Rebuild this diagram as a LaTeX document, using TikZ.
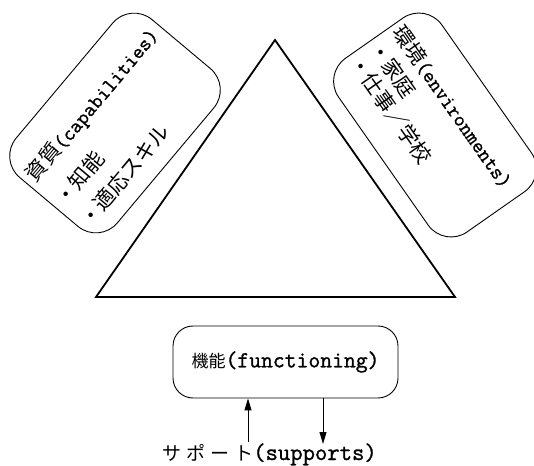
\documentclass[tikz,border=0pt]{standalone}
\usepackage{fontspec}
\newfontfamily\jp{Noto Sans CJK JP}
\newfontfamily\mono[FakeBold=1.2]{Latin Modern Mono}
\usetikzlibrary{arrows.meta}
\newcommand\boxjp{\jp\fontsize{21}{21}\selectfont}
\newcommand\boxtt{\mono\fontsize{20.8}{21}\selectfont}
\newcommand\funjp{\jp\fontsize{17}{17}\selectfont}
\newcommand\funtt{\mono\fontsize{23}{23}\selectfont}
\newcommand\supjp{\jp\fontsize{19}{19}\selectfont}
\newcommand\suptt{\mono\fontsize{24}{24}\selectfont}
\begin{document}
\begin{tikzpicture}[x=1pt,y=1pt,
  tri/.style={line width=1.8pt, line join=miter},
  rbox/.style={draw, line width=0.9pt, rounded corners=28pt},
  fbox/.style={draw, line width=0.9pt, rounded corners=20pt, minimum width=225pt, minimum height=72pt, inner sep=0pt},
  txt/.style={anchor=base west, inner sep=0pt},
  arr/.style={line width=1pt, -{Triangle[length=12pt,width=7pt]}}]
\useasboundingbox (0,0) rectangle (534,465);
% triangle
\coordinate (A) at (275,425);
\coordinate (B) at (96,168);
\coordinate (C) at (455,168);
\draw[tri] (A) -- (B) -- (C) -- cycle;
% left box
\begin{scope}[shift={(115,342)}, rotate=50, transform shape]
  \draw[rbox] (-103,-66) rectangle (103,66);
  \node[txt] (l1) at (-97,22) {\boxjp 資質\boxtt(capabilities)};
  \node[txt] (l2) at (-97,-16) {\boxjp ・知能};
  \node[txt] (l3) at (-97,-49) {\boxjp ・適応スキル};
\end{scope}
% right box
\begin{scope}[shift={(435,340)}, rotate=-55, transform shape]
  \draw[rbox] (-106,-63) rectangle (106,63);
  \node[txt] (r1) at (-101,17.5) {\boxjp 環境\boxtt(environments)};
  \node[txt] (r2) at (-101,-10.5) {\boxjp ・家庭};
  \node[txt] (r3) at (-101,-35.5) {\boxjp ・仕事／学校};
\end{scope}
% functioning box
\node[fbox] (fun) at (285.5,103) {\funjp 機能\funtt(functioning)};
% supports label
\node[txt] (sup) at (162,5) {\supjp サ\hspace{5pt}ポ\hspace{5pt}ー\hspace{5pt}ト\suptt(supports)};
\coordinate (u0) at (248,23);
\coordinate (d1) at (323,21);
\draw[arr] (u0) -- (u0 |- fun.south);
\draw[arr] (d1 |- fun.south) -- (d1);
\end{tikzpicture}
\end{document}
